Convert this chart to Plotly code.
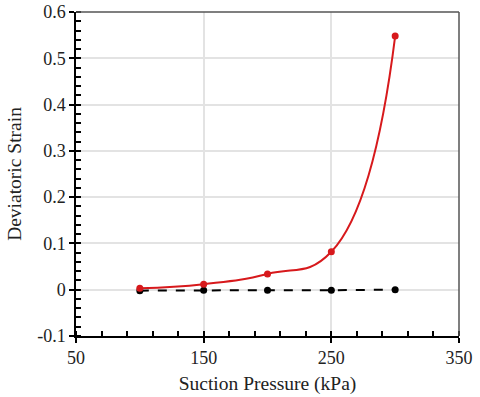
import plotly.graph_objects as go

suction = [100, 150, 200, 250, 300]
red_strain = [0.003, 0.012, 0.034, 0.082, 0.548]
black_strain = [-0.002, -0.001, -0.001, -0.001, 0.0]

x_ticks = [50, 150, 250, 350]
y_ticks = [-0.1, 0, 0.1, 0.2, 0.3, 0.4, 0.5, 0.6]
y_labels = ["-0.1", "0", "0.1", "0.2", "0.3", "0.4", "0.5", "0.6"]

fig = go.Figure()
fig.add_trace(go.Scatter(x=suction, y=black_strain, mode="lines+markers",
                         line=dict(color="black", width=2, dash="dash"),
                         marker=dict(color="black", size=7), showlegend=False))
fig.add_trace(go.Scatter(x=suction, y=red_strain, mode="lines+markers",
                         line=dict(color="#d7191c", width=2, shape="spline", smoothing=1.3),
                         marker=dict(color="#d7191c", size=7), showlegend=False))
# invisible trace to carry the inside-tick overlay axes (crossing major ticks)
fig.add_trace(go.Scatter(x=suction, y=black_strain, xaxis="x2", yaxis="y2", mode="none",
                         showlegend=False, hoverinfo="skip"))

font = "Liberation Serif, serif"
W, H = 480, 397
fig.update_layout(
    width=W, height=H,
    margin=dict(l=76, r=21, t=12, b=61, autoexpand=False),
    paper_bgcolor="white", plot_bgcolor="white",
    font=dict(family=font, size=18, color="#222"),
    xaxis2=dict(overlaying="x", matches="x", range=[50, 350], tickvals=x_ticks, ticks="inside",
                ticklen=5, tickwidth=1.5, tickcolor="black", showticklabels=False,
                showgrid=False, zeroline=False, showline=False),
    yaxis2=dict(overlaying="y", matches="y", range=[-0.1, 0.6], tickvals=y_ticks, ticks="inside",
                ticklen=5, tickwidth=1.5, tickcolor="black", showticklabels=False,
                showgrid=False, zeroline=False, showline=False),
)
fig.layout.xaxis.update(range=[50, 350], tickvals=x_ticks, ticktext=[str(v) for v in x_ticks],
                 ticks="outside", ticklen=5, automargin=False, ticklabeloverflow="allow",
                 tickwidth=1.5, tickcolor="black",
                 showline=True, linecolor="black", linewidth=1.5, mirror=False,
                 showgrid=True, gridcolor="#e3e3e3", gridwidth=1.5, zeroline=False,
                 minor=dict(dtick=20, tick0=50, ticks="inside", ticklen=5, tickcolor="black", showgrid=False),
                 title=dict(text="Suction Pressure (kPa)", font=dict(family=font, size=19.5), standoff=9),
                 tickfont=dict(family=font, size=18))
fig.layout.yaxis.update(range=[-0.1, 0.6], tickvals=y_ticks, ticktext=y_labels,
                 ticks="outside", ticklen=5, automargin=False, ticklabeloverflow="allow",
                 tickwidth=1.5, tickcolor="black",
                 showline=True, linecolor="black", linewidth=1.5,
                 showgrid=True, gridcolor="#e3e3e3", gridwidth=1.5, zeroline=False,
                 minor=dict(dtick=0.02, tick0=0, ticks="inside", ticklen=5, tickcolor="black", showgrid=False),
                 title=dict(text="Deviatoric Strain", font=dict(family=font, size=19.5), standoff=10),
                 tickfont=dict(family=font, size=18))
# top and right frame
fig.add_shape(type="line", xref="paper", yref="paper", x0=0, x1=1, y0=1, y1=1,
              line=dict(color="#555", width=1.5))
fig.add_shape(type="line", xref="paper", yref="paper", x0=1, x1=1, y0=0, y1=1,
              line=dict(color="#555", width=1.5))
fig.write_html("out.html", config={"displayModeBar": False},
               post_script="document.body.style.margin='0';")
